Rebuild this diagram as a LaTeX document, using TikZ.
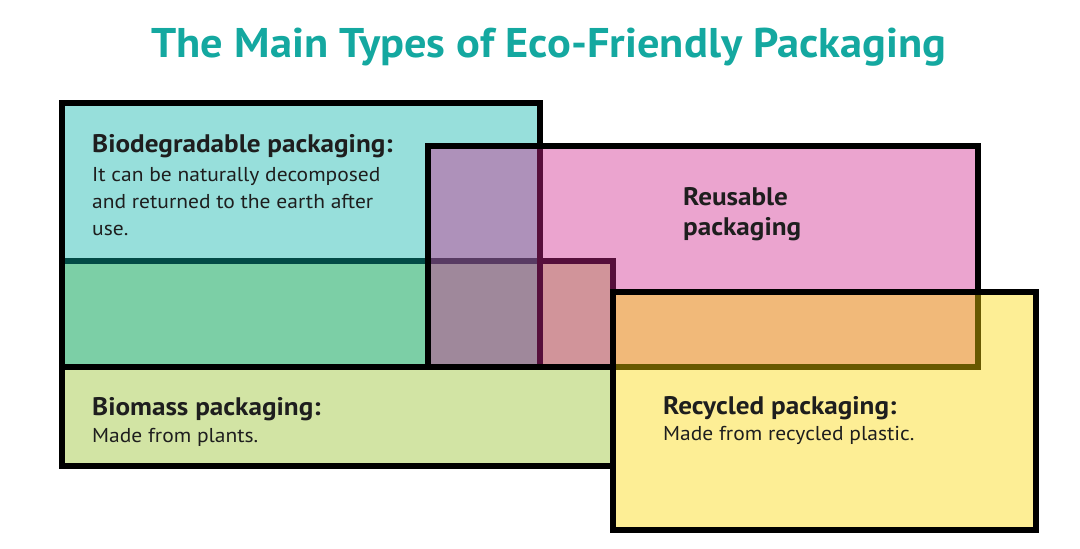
\documentclass[tikz,border=0pt]{standalone}
\usepackage{fontspec}
\setmainfont{PT Sans}[FakeStretch=1.07]
\usetikzlibrary{positioning}
\definecolor{Teal}{HTML}{14A8A0}
\definecolor{BioCyan}{HTML}{07B3A9}
\definecolor{MassGreen}{HTML}{94BF26}
\definecolor{ReusePink}{HTML}{CF268D}
\definecolor{RecycYellow}{HTML}{FAD603}
\definecolor{Ink}{HTML}{1E1E1E}

\begin{document}
\begin{tikzpicture}[x=1pt,y=-1pt,
  pack/.style={draw=black,line width=6pt,fill opacity=0.42,inner sep=0pt,outer sep=0pt,anchor=north west},
  head/.style={Ink,font=\fontsize{25.4}{30}\selectfont\bfseries,align=left,anchor=base west,inner sep=0pt},
  body/.style={Ink,font=\fontsize{20.1}{27}\selectfont,align=left,anchor=base west,inner sep=0pt}]
  \useasboundingbox (0,0) rectangle (1080,549);
  \node[Teal,font=\fontsize{41.5}{44}\selectfont\bfseries,anchor=base,inner sep=0pt] (title) at (549,57) {The Main Types of Eco-Friendly Packaging};
  % boxes, lowest first
  \node[pack,fill=MassGreen,minimum width=551pt,minimum height=205pt] (biomass) at (62,261) {};
  \node[pack,fill=BioCyan,minimum width=478pt,minimum height=264pt] (biodeg) at (62,103) {};
  \node[pack,fill=ReusePink,minimum width=550pt,minimum height=221pt] (reuse) at (428,146) {};
  \node[pack,fill=RecycYellow,minimum width=423pt,minimum height=238pt] (recyc) at (613,292) {};
  % labels (base = last line)
  \node[head] (biodegHead) at (92,152) {Biodegradable packaging:};
  \node[body] (biodegText) at (92,235) {It can be naturally decomposed\\and returned to the earth after\\use.};
  \node[head] (reuseHead) at (683,235) {Reusable\\packaging};
  \node[head] (biomassHead) at (92,415) {Biomass packaging:};
  \node[body] (biomassText) at (92,442) {Made from plants.};
  \node[head] (recycHead) at (663,414) {Recycled packaging:};
  \node[body] (recycText) at (663,440) {Made from recycled plastic.};
\end{tikzpicture}
\end{document}
